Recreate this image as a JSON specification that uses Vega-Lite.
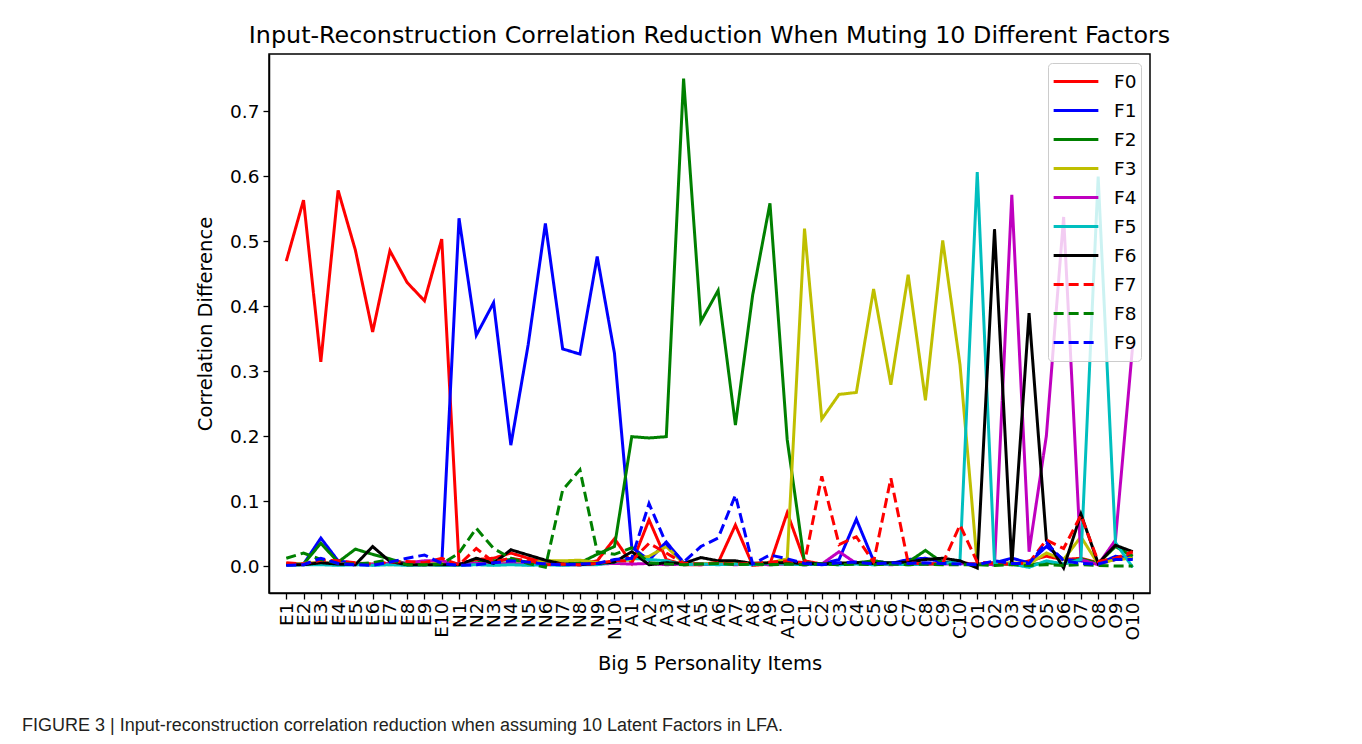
{
  "$schema": "https://vega.github.io/schema/vega-lite/v6.json",
  "padding": {"left": 22, "top": 23, "right": 5, "bottom": 5},
  "background": "white",
  "config": {
    "font": "DejaVu Sans",
    "view": {"stroke": "black", "strokeWidth": 1.5},
    "axis": {"grid": false, "labelColor": "black", "titleColor": "black", "tickColor": "black", "domainColor": "black", "domainWidth": 1.5, "tickWidth": 1.3, "tickSize": 6, "labelFont": "DejaVu Sans", "titleFont": "DejaVu Sans", "labelFontSize": 18.5, "titleFontSize": 19.5, "titleFontWeight": "normal"}
  },
  "title": {
    "text": "FIGURE 3 | Input-reconstruction correlation reduction when assuming 10 Latent Factors in LFA.",
    "orient": "bottom", "anchor": "start", "frame": "group", "dx": -247, "offset": 44,
    "font": "Liberation Sans, Arial, sans-serif", "fontSize": 18, "fontWeight": "normal", "color": "#231f20"
  },
  "vconcat": [
    {
      "width": 881,
      "height": 539,
      "title": {"text": "Input-Reconstruction Correlation Reduction When Muting 10 Different Factors", "font": "DejaVu Sans", "fontSize": 23.8, "fontWeight": "normal", "color": "black", "offset": 6},
      "data": {"values": [
        {"item":"E1","factor":"F0","value":0.469},{"item":"E2","factor":"F0","value":0.563},{"item":"E3","factor":"F0","value":0.314},{"item":"E4","factor":"F0","value":0.578},{"item":"E5","factor":"F0","value":0.486},{"item":"E6","factor":"F0","value":0.360},{"item":"E7","factor":"F0","value":0.485},{"item":"E8","factor":"F0","value":0.436},{"item":"E9","factor":"F0","value":0.408},{"item":"E10","factor":"F0","value":0.503},
        {"item":"N1","factor":"F0","value":0.003},{"item":"N2","factor":"F0","value":0.010},{"item":"N3","factor":"F0","value":0.012},{"item":"N4","factor":"F0","value":0.020},{"item":"N5","factor":"F0","value":0.012},{"item":"N6","factor":"F0","value":0.005},{"item":"N7","factor":"F0","value":0.002},{"item":"N8","factor":"F0","value":0.003},{"item":"N9","factor":"F0","value":0.008},{"item":"N10","factor":"F0","value":0.042},
        {"item":"A1","factor":"F0","value":0.004},{"item":"A2","factor":"F0","value":0.071},{"item":"A3","factor":"F0","value":0.010},{"item":"A4","factor":"F0","value":0.002},{"item":"A5","factor":"F0","value":0.002},{"item":"A6","factor":"F0","value":0.005},{"item":"A7","factor":"F0","value":0.063},{"item":"A8","factor":"F0","value":0.001},{"item":"A9","factor":"F0","value":0.003},{"item":"A10","factor":"F0","value":0.082},
        {"item":"C1","factor":"F0","value":0.008},{"item":"C2","factor":"F0","value":0.003},{"item":"C3","factor":"F0","value":0.004},{"item":"C4","factor":"F0","value":0.005},{"item":"C5","factor":"F0","value":0.004},{"item":"C6","factor":"F0","value":0.003},{"item":"C7","factor":"F0","value":0.004},{"item":"C8","factor":"F0","value":0.003},{"item":"C9","factor":"F0","value":0.004},{"item":"C10","factor":"F0","value":0.005},
        {"item":"O1","factor":"F0","value":0.003},{"item":"O2","factor":"F0","value":0.005},{"item":"O3","factor":"F0","value":0.002},{"item":"O4","factor":"F0","value":0.008},{"item":"O5","factor":"F0","value":0.015},{"item":"O6","factor":"F0","value":0.010},{"item":"O7","factor":"F0","value":0.012},{"item":"O8","factor":"F0","value":0.005},{"item":"O9","factor":"F0","value":0.010},{"item":"O10","factor":"F0","value":0.018},

        {"item":"E1","factor":"F1","value":0.002},{"item":"E2","factor":"F1","value":0.003},{"item":"E3","factor":"F1","value":0.043},{"item":"E4","factor":"F1","value":0.008},{"item":"E5","factor":"F1","value":0.004},{"item":"E6","factor":"F1","value":0.002},{"item":"E7","factor":"F1","value":0.003},{"item":"E8","factor":"F1","value":0.002},{"item":"E9","factor":"F1","value":0.002},{"item":"E10","factor":"F1","value":0.003},
        {"item":"N1","factor":"F1","value":0.535},{"item":"N2","factor":"F1","value":0.355},{"item":"N3","factor":"F1","value":0.405},{"item":"N4","factor":"F1","value":0.186},{"item":"N5","factor":"F1","value":0.340},{"item":"N6","factor":"F1","value":0.527},{"item":"N7","factor":"F1","value":0.334},{"item":"N8","factor":"F1","value":0.326},{"item":"N9","factor":"F1","value":0.476},{"item":"N10","factor":"F1","value":0.327},
        {"item":"A1","factor":"F1","value":0.029},{"item":"A2","factor":"F1","value":0.009},{"item":"A3","factor":"F1","value":0.037},{"item":"A4","factor":"F1","value":0.005},{"item":"A5","factor":"F1","value":0.003},{"item":"A6","factor":"F1","value":0.004},{"item":"A7","factor":"F1","value":0.003},{"item":"A8","factor":"F1","value":0.004},{"item":"A9","factor":"F1","value":0.003},{"item":"A10","factor":"F1","value":0.006},
        {"item":"C1","factor":"F1","value":0.005},{"item":"C2","factor":"F1","value":0.003},{"item":"C3","factor":"F1","value":0.010},{"item":"C4","factor":"F1","value":0.072},{"item":"C5","factor":"F1","value":0.008},{"item":"C6","factor":"F1","value":0.004},{"item":"C7","factor":"F1","value":0.010},{"item":"C8","factor":"F1","value":0.012},{"item":"C9","factor":"F1","value":0.006},{"item":"C10","factor":"F1","value":0.004},
        {"item":"O1","factor":"F1","value":0.002},{"item":"O2","factor":"F1","value":0.005},{"item":"O3","factor":"F1","value":0.012},{"item":"O4","factor":"F1","value":0.005},{"item":"O5","factor":"F1","value":0.030},{"item":"O6","factor":"F1","value":0.010},{"item":"O7","factor":"F1","value":0.008},{"item":"O8","factor":"F1","value":0.003},{"item":"O9","factor":"F1","value":0.015},{"item":"O10","factor":"F1","value":0.012},

        {"item":"E1","factor":"F2","value":0.004},{"item":"E2","factor":"F2","value":0.003},{"item":"E3","factor":"F2","value":0.035},{"item":"E4","factor":"F2","value":0.006},{"item":"E5","factor":"F2","value":0.026},{"item":"E6","factor":"F2","value":0.018},{"item":"E7","factor":"F2","value":0.011},{"item":"E8","factor":"F2","value":0.003},{"item":"E9","factor":"F2","value":0.002},{"item":"E10","factor":"F2","value":0.004},
        {"item":"N1","factor":"F2","value":0.003},{"item":"N2","factor":"F2","value":0.005},{"item":"N3","factor":"F2","value":0.008},{"item":"N4","factor":"F2","value":0.010},{"item":"N5","factor":"F2","value":0.006},{"item":"N6","factor":"F2","value":0.004},{"item":"N7","factor":"F2","value":0.003},{"item":"N8","factor":"F2","value":0.005},{"item":"N9","factor":"F2","value":0.018},{"item":"N10","factor":"F2","value":0.030},
        {"item":"A1","factor":"F2","value":0.199},{"item":"A2","factor":"F2","value":0.197},{"item":"A3","factor":"F2","value":0.199},{"item":"A4","factor":"F2","value":0.750},{"item":"A5","factor":"F2","value":0.376},{"item":"A6","factor":"F2","value":0.424},{"item":"A7","factor":"F2","value":0.217},{"item":"A8","factor":"F2","value":0.417},{"item":"A9","factor":"F2","value":0.558},{"item":"A10","factor":"F2","value":0.194},
        {"item":"C1","factor":"F2","value":0.005},{"item":"C2","factor":"F2","value":0.003},{"item":"C3","factor":"F2","value":0.004},{"item":"C4","factor":"F2","value":0.005},{"item":"C5","factor":"F2","value":0.008},{"item":"C6","factor":"F2","value":0.004},{"item":"C7","factor":"F2","value":0.006},{"item":"C8","factor":"F2","value":0.024},{"item":"C9","factor":"F2","value":0.005},{"item":"C10","factor":"F2","value":0.004},
        {"item":"O1","factor":"F2","value":0.003},{"item":"O2","factor":"F2","value":0.002},{"item":"O3","factor":"F2","value":0.004},{"item":"O4","factor":"F2","value":0.002},{"item":"O5","factor":"F2","value":0.005},{"item":"O6","factor":"F2","value":0.003},{"item":"O7","factor":"F2","value":0.011},{"item":"O8","factor":"F2","value":0.004},{"item":"O9","factor":"F2","value":0.030},{"item":"O10","factor":"F2","value":0.015},

        {"item":"E1","factor":"F3","value":0.003},{"item":"E2","factor":"F3","value":0.004},{"item":"E3","factor":"F3","value":0.006},{"item":"E4","factor":"F3","value":0.003},{"item":"E5","factor":"F3","value":0.004},{"item":"E6","factor":"F3","value":0.003},{"item":"E7","factor":"F3","value":0.002},{"item":"E8","factor":"F3","value":0.003},{"item":"E9","factor":"F3","value":0.003},{"item":"E10","factor":"F3","value":0.004},
        {"item":"N1","factor":"F3","value":0.002},{"item":"N2","factor":"F3","value":0.003},{"item":"N3","factor":"F3","value":0.004},{"item":"N4","factor":"F3","value":0.003},{"item":"N5","factor":"F3","value":0.004},{"item":"N6","factor":"F3","value":0.008},{"item":"N7","factor":"F3","value":0.008},{"item":"N8","factor":"F3","value":0.009},{"item":"N9","factor":"F3","value":0.005},{"item":"N10","factor":"F3","value":0.006},
        {"item":"A1","factor":"F3","value":0.010},{"item":"A2","factor":"F3","value":0.015},{"item":"A3","factor":"F3","value":0.030},{"item":"A4","factor":"F3","value":0.004},{"item":"A5","factor":"F3","value":0.003},{"item":"A6","factor":"F3","value":0.005},{"item":"A7","factor":"F3","value":0.004},{"item":"A8","factor":"F3","value":0.003},{"item":"A9","factor":"F3","value":0.005},{"item":"A10","factor":"F3","value":0.011},
        {"item":"C1","factor":"F3","value":0.519},{"item":"C2","factor":"F3","value":0.226},{"item":"C3","factor":"F3","value":0.264},{"item":"C4","factor":"F3","value":0.267},{"item":"C5","factor":"F3","value":0.426},{"item":"C6","factor":"F3","value":0.279},{"item":"C7","factor":"F3","value":0.448},{"item":"C8","factor":"F3","value":0.255},{"item":"C9","factor":"F3","value":0.501},{"item":"C10","factor":"F3","value":0.310},
        {"item":"O1","factor":"F3","value":0.003},{"item":"O2","factor":"F3","value":0.004},{"item":"O3","factor":"F3","value":0.005},{"item":"O4","factor":"F3","value":0.003},{"item":"O5","factor":"F3","value":0.020},{"item":"O6","factor":"F3","value":0.010},{"item":"O7","factor":"F3","value":0.045},{"item":"O8","factor":"F3","value":0.003},{"item":"O9","factor":"F3","value":0.010},{"item":"O10","factor":"F3","value":0.012},

        {"item":"E1","factor":"F4","value":0.002},{"item":"E2","factor":"F4","value":0.003},{"item":"E3","factor":"F4","value":0.005},{"item":"E4","factor":"F4","value":0.003},{"item":"E5","factor":"F4","value":0.002},{"item":"E6","factor":"F4","value":0.003},{"item":"E7","factor":"F4","value":0.004},{"item":"E8","factor":"F4","value":0.005},{"item":"E9","factor":"F4","value":0.008},{"item":"E10","factor":"F4","value":0.008},
        {"item":"N1","factor":"F4","value":0.003},{"item":"N2","factor":"F4","value":0.004},{"item":"N3","factor":"F4","value":0.003},{"item":"N4","factor":"F4","value":0.004},{"item":"N5","factor":"F4","value":0.002},{"item":"N6","factor":"F4","value":0.003},{"item":"N7","factor":"F4","value":0.002},{"item":"N8","factor":"F4","value":0.002},{"item":"N9","factor":"F4","value":0.003},{"item":"N10","factor":"F4","value":0.004},
        {"item":"A1","factor":"F4","value":0.003},{"item":"A2","factor":"F4","value":0.004},{"item":"A3","factor":"F4","value":0.002},{"item":"A4","factor":"F4","value":0.003},{"item":"A5","factor":"F4","value":0.002},{"item":"A6","factor":"F4","value":0.003},{"item":"A7","factor":"F4","value":0.002},{"item":"A8","factor":"F4","value":0.003},{"item":"A9","factor":"F4","value":0.002},{"item":"A10","factor":"F4","value":0.003},
        {"item":"C1","factor":"F4","value":0.002},{"item":"C2","factor":"F4","value":0.003},{"item":"C3","factor":"F4","value":0.022},{"item":"C4","factor":"F4","value":0.004},{"item":"C5","factor":"F4","value":0.003},{"item":"C6","factor":"F4","value":0.002},{"item":"C7","factor":"F4","value":0.003},{"item":"C8","factor":"F4","value":0.004},{"item":"C9","factor":"F4","value":0.003},{"item":"C10","factor":"F4","value":0.004},
        {"item":"O1","factor":"F4","value":0.003},{"item":"O2","factor":"F4","value":0.002},{"item":"O3","factor":"F4","value":0.571},{"item":"O4","factor":"F4","value":0.022},{"item":"O5","factor":"F4","value":0.200},{"item":"O6","factor":"F4","value":0.537},{"item":"O7","factor":"F4","value":0.010},{"item":"O8","factor":"F4","value":0.002},{"item":"O9","factor":"F4","value":0.040},{"item":"O10","factor":"F4","value":0.340},

        {"item":"E1","factor":"F5","value":0.001},{"item":"E2","factor":"F5","value":0.002},{"item":"E3","factor":"F5","value":0.002},{"item":"E4","factor":"F5","value":0.001},{"item":"E5","factor":"F5","value":0.002},{"item":"E6","factor":"F5","value":0.001},{"item":"E7","factor":"F5","value":0.002},{"item":"E8","factor":"F5","value":0.001},{"item":"E9","factor":"F5","value":0.002},{"item":"E10","factor":"F5","value":0.001},
        {"item":"N1","factor":"F5","value":0.001},{"item":"N2","factor":"F5","value":0.002},{"item":"N3","factor":"F5","value":0.001},{"item":"N4","factor":"F5","value":0.002},{"item":"N5","factor":"F5","value":0.001},{"item":"N6","factor":"F5","value":0.002},{"item":"N7","factor":"F5","value":0.001},{"item":"N8","factor":"F5","value":0.002},{"item":"N9","factor":"F5","value":0.002},{"item":"N10","factor":"F5","value":0.006},
        {"item":"A1","factor":"F5","value":0.012},{"item":"A2","factor":"F5","value":0.010},{"item":"A3","factor":"F5","value":0.008},{"item":"A4","factor":"F5","value":0.002},{"item":"A5","factor":"F5","value":0.003},{"item":"A6","factor":"F5","value":0.002},{"item":"A7","factor":"F5","value":0.003},{"item":"A8","factor":"F5","value":0.002},{"item":"A9","factor":"F5","value":0.004},{"item":"A10","factor":"F5","value":0.003},
        {"item":"C1","factor":"F5","value":0.002},{"item":"C2","factor":"F5","value":0.003},{"item":"C3","factor":"F5","value":0.002},{"item":"C4","factor":"F5","value":0.003},{"item":"C5","factor":"F5","value":0.002},{"item":"C6","factor":"F5","value":0.003},{"item":"C7","factor":"F5","value":0.002},{"item":"C8","factor":"F5","value":0.003},{"item":"C9","factor":"F5","value":0.003},{"item":"C10","factor":"F5","value":0.008},
        {"item":"O1","factor":"F5","value":0.606},{"item":"O2","factor":"F5","value":0.004},{"item":"O3","factor":"F5","value":0.003},{"item":"O4","factor":"F5","value":-0.002},{"item":"O5","factor":"F5","value":0.008},{"item":"O6","factor":"F5","value":0.003},{"item":"O7","factor":"F5","value":0.010},{"item":"O8","factor":"F5","value":0.599},{"item":"O9","factor":"F5","value":0.036},{"item":"O10","factor":"F5","value":-0.002},

        {"item":"E1","factor":"F6","value":0.002},{"item":"E2","factor":"F6","value":0.002},{"item":"E3","factor":"F6","value":0.005},{"item":"E4","factor":"F6","value":0.003},{"item":"E5","factor":"F6","value":0.002},{"item":"E6","factor":"F6","value":0.030},{"item":"E7","factor":"F6","value":0.007},{"item":"E8","factor":"F6","value":0.002},{"item":"E9","factor":"F6","value":0.002},{"item":"E10","factor":"F6","value":0.002},
        {"item":"N1","factor":"F6","value":0.002},{"item":"N2","factor":"F6","value":0.012},{"item":"N3","factor":"F6","value":0.004},{"item":"N4","factor":"F6","value":0.025},{"item":"N5","factor":"F6","value":0.017},{"item":"N6","factor":"F6","value":0.009},{"item":"N7","factor":"F6","value":0.003},{"item":"N8","factor":"F6","value":0.002},{"item":"N9","factor":"F6","value":0.004},{"item":"N10","factor":"F6","value":0.006},
        {"item":"A1","factor":"F6","value":0.022},{"item":"A2","factor":"F6","value":0.002},{"item":"A3","factor":"F6","value":0.005},{"item":"A4","factor":"F6","value":0.004},{"item":"A5","factor":"F6","value":0.013},{"item":"A6","factor":"F6","value":0.008},{"item":"A7","factor":"F6","value":0.008},{"item":"A8","factor":"F6","value":0.004},{"item":"A9","factor":"F6","value":0.005},{"item":"A10","factor":"F6","value":0.005},
        {"item":"C1","factor":"F6","value":0.004},{"item":"C2","factor":"F6","value":0.003},{"item":"C3","factor":"F6","value":0.004},{"item":"C4","factor":"F6","value":0.005},{"item":"C5","factor":"F6","value":0.004},{"item":"C6","factor":"F6","value":0.005},{"item":"C7","factor":"F6","value":0.006},{"item":"C8","factor":"F6","value":0.010},{"item":"C9","factor":"F6","value":0.012},{"item":"C10","factor":"F6","value":0.008},
        {"item":"O1","factor":"F6","value":-0.003},{"item":"O2","factor":"F6","value":0.518},{"item":"O3","factor":"F6","value":0.001},{"item":"O4","factor":"F6","value":0.389},{"item":"O5","factor":"F6","value":0.040},{"item":"O6","factor":"F6","value":-0.003},{"item":"O7","factor":"F6","value":0.080},{"item":"O8","factor":"F6","value":0.004},{"item":"O9","factor":"F6","value":0.032},{"item":"O10","factor":"F6","value":0.022},

        {"item":"E1","factor":"F7","value":0.005},{"item":"E2","factor":"F7","value":0.003},{"item":"E3","factor":"F7","value":0.009},{"item":"E4","factor":"F7","value":0.008},{"item":"E5","factor":"F7","value":0.005},{"item":"E6","factor":"F7","value":0.003},{"item":"E7","factor":"F7","value":0.006},{"item":"E8","factor":"F7","value":0.007},{"item":"E9","factor":"F7","value":0.005},{"item":"E10","factor":"F7","value":0.012},
        {"item":"N1","factor":"F7","value":0.002},{"item":"N2","factor":"F7","value":0.027},{"item":"N3","factor":"F7","value":0.006},{"item":"N4","factor":"F7","value":0.012},{"item":"N5","factor":"F7","value":0.008},{"item":"N6","factor":"F7","value":0.002},{"item":"N7","factor":"F7","value":0.003},{"item":"N8","factor":"F7","value":0.002},{"item":"N9","factor":"F7","value":0.004},{"item":"N10","factor":"F7","value":0.008},
        {"item":"A1","factor":"F7","value":0.008},{"item":"A2","factor":"F7","value":0.035},{"item":"A3","factor":"F7","value":0.020},{"item":"A4","factor":"F7","value":0.004},{"item":"A5","factor":"F7","value":0.003},{"item":"A6","factor":"F7","value":0.005},{"item":"A7","factor":"F7","value":0.003},{"item":"A8","factor":"F7","value":0.004},{"item":"A9","factor":"F7","value":0.006},{"item":"A10","factor":"F7","value":0.008},
        {"item":"C1","factor":"F7","value":0.005},{"item":"C2","factor":"F7","value":0.138},{"item":"C3","factor":"F7","value":0.033},{"item":"C4","factor":"F7","value":0.045},{"item":"C5","factor":"F7","value":0.006},{"item":"C6","factor":"F7","value":0.135},{"item":"C7","factor":"F7","value":0.005},{"item":"C8","factor":"F7","value":0.003},{"item":"C9","factor":"F7","value":0.004},{"item":"C10","factor":"F7","value":0.063},
        {"item":"O1","factor":"F7","value":0.006},{"item":"O2","factor":"F7","value":0.004},{"item":"O3","factor":"F7","value":0.003},{"item":"O4","factor":"F7","value":0.005},{"item":"O5","factor":"F7","value":0.040},{"item":"O6","factor":"F7","value":0.027},{"item":"O7","factor":"F7","value":0.078},{"item":"O8","factor":"F7","value":0.007},{"item":"O9","factor":"F7","value":0.012},{"item":"O10","factor":"F7","value":0.022},

        {"item":"E1","factor":"F8","value":0.012},{"item":"E2","factor":"F8","value":0.020},{"item":"E3","factor":"F8","value":0.010},{"item":"E4","factor":"F8","value":0.004},{"item":"E5","factor":"F8","value":0.003},{"item":"E6","factor":"F8","value":0.005},{"item":"E7","factor":"F8","value":0.010},{"item":"E8","factor":"F8","value":0.002},{"item":"E9","factor":"F8","value":0.002},{"item":"E10","factor":"F8","value":0.003},
        {"item":"N1","factor":"F8","value":0.020},{"item":"N2","factor":"F8","value":0.058},{"item":"N3","factor":"F8","value":0.027},{"item":"N4","factor":"F8","value":0.012},{"item":"N5","factor":"F8","value":0.004},{"item":"N6","factor":"F8","value":-0.002},{"item":"N7","factor":"F8","value":0.117},{"item":"N8","factor":"F8","value":0.148},{"item":"N9","factor":"F8","value":0.022},{"item":"N10","factor":"F8","value":0.018},
        {"item":"A1","factor":"F8","value":0.028},{"item":"A2","factor":"F8","value":0.005},{"item":"A3","factor":"F8","value":0.003},{"item":"A4","factor":"F8","value":0.002},{"item":"A5","factor":"F8","value":0.003},{"item":"A6","factor":"F8","value":0.004},{"item":"A7","factor":"F8","value":0.002},{"item":"A8","factor":"F8","value":0.003},{"item":"A9","factor":"F8","value":0.002},{"item":"A10","factor":"F8","value":0.003},
        {"item":"C1","factor":"F8","value":0.002},{"item":"C2","factor":"F8","value":0.003},{"item":"C3","factor":"F8","value":0.002},{"item":"C4","factor":"F8","value":0.003},{"item":"C5","factor":"F8","value":0.002},{"item":"C6","factor":"F8","value":0.003},{"item":"C7","factor":"F8","value":0.002},{"item":"C8","factor":"F8","value":0.003},{"item":"C9","factor":"F8","value":0.002},{"item":"C10","factor":"F8","value":0.002},
        {"item":"O1","factor":"F8","value":0.002},{"item":"O2","factor":"F8","value":0.001},{"item":"O3","factor":"F8","value":0.002},{"item":"O4","factor":"F8","value":0.001},{"item":"O5","factor":"F8","value":0.002},{"item":"O6","factor":"F8","value":0.001},{"item":"O7","factor":"F8","value":0.002},{"item":"O8","factor":"F8","value":0.001},{"item":"O9","factor":"F8","value":0.000},{"item":"O10","factor":"F8","value":0.000},

        {"item":"E1","factor":"F9","value":0.001},{"item":"E2","factor":"F9","value":0.002},{"item":"E3","factor":"F9","value":0.012},{"item":"E4","factor":"F9","value":0.004},{"item":"E5","factor":"F9","value":0.002},{"item":"E6","factor":"F9","value":0.001},{"item":"E7","factor":"F9","value":0.006},{"item":"E8","factor":"F9","value":0.012},{"item":"E9","factor":"F9","value":0.017},{"item":"E10","factor":"F9","value":0.004},
        {"item":"N1","factor":"F9","value":0.001},{"item":"N2","factor":"F9","value":0.002},{"item":"N3","factor":"F9","value":0.005},{"item":"N4","factor":"F9","value":0.008},{"item":"N5","factor":"F9","value":0.006},{"item":"N6","factor":"F9","value":0.003},{"item":"N7","factor":"F9","value":0.002},{"item":"N8","factor":"F9","value":0.003},{"item":"N9","factor":"F9","value":0.004},{"item":"N10","factor":"F9","value":0.010},
        {"item":"A1","factor":"F9","value":0.012},{"item":"A2","factor":"F9","value":0.096},{"item":"A3","factor":"F9","value":0.034},{"item":"A4","factor":"F9","value":0.006},{"item":"A5","factor":"F9","value":0.030},{"item":"A6","factor":"F9","value":0.043},{"item":"A7","factor":"F9","value":0.109},{"item":"A8","factor":"F9","value":0.003},{"item":"A9","factor":"F9","value":0.017},{"item":"A10","factor":"F9","value":0.011},
        {"item":"C1","factor":"F9","value":0.004},{"item":"C2","factor":"F9","value":0.002},{"item":"C3","factor":"F9","value":0.005},{"item":"C4","factor":"F9","value":0.006},{"item":"C5","factor":"F9","value":0.003},{"item":"C6","factor":"F9","value":0.005},{"item":"C7","factor":"F9","value":0.004},{"item":"C8","factor":"F9","value":0.005},{"item":"C9","factor":"F9","value":0.004},{"item":"C10","factor":"F9","value":0.003},
        {"item":"O1","factor":"F9","value":0.002},{"item":"O2","factor":"F9","value":0.008},{"item":"O3","factor":"F9","value":0.004},{"item":"O4","factor":"F9","value":0.004},{"item":"O5","factor":"F9","value":0.036},{"item":"O6","factor":"F9","value":0.008},{"item":"O7","factor":"F9","value":0.004},{"item":"O8","factor":"F9","value":0.003},{"item":"O9","factor":"F9","value":0.010},{"item":"O10","factor":"F9","value":0.010}
      ]},
      "mark": {"type": "line", "strokeWidth": 3, "clip": true},
      "encoding": {
        "x": {
          "field": "item", "type": "ordinal",
          "sort": ["E1","E2","E3","E4","E5","E6","E7","E8","E9","E10","N1","N2","N3","N4","N5","N6","N7","N8","N9","N10","A1","A2","A3","A4","A5","A6","A7","A8","A9","A10","C1","C2","C3","C4","C5","C6","C7","C8","C9","C10","O1","O2","O3","O4","O5","O6","O7","O8","O9","O10"],
          "scale": {"type": "point", "padding": 2.5},
          "axis": {"title": "Big 5 Personality Items", "labelAngle": -90, "labelPadding": 3, "titlePadding": 14}
        },
        "y": {
          "field": "value", "type": "quantitative",
          "scale": {"domain": [-0.0415, 0.7877], "nice": false, "zero": false},
          "axis": {"title": "Correlation Difference", "values": [0, 0.1, 0.2, 0.3, 0.4, 0.5, 0.6, 0.7], "format": ".1f", "labelPadding": 4, "titlePadding": 14}
        },
        "color": {
          "field": "factor", "type": "nominal",
          "scale": {"domain": ["F0","F1","F2","F3","F4","F5","F6","F7","F8","F9"], "range": ["#ff0000","#0000ff","#008000","#bfbf00","#bf00bf","#00bfbf","#000000","#ff0000","#008000","#0000ff"]},
          "legend": {"title": null, "orient": "top-right", "offset": 9, "padding": 4, "fillColor": "rgba(255,255,255,0.8)", "strokeColor": "#cccccc", "cornerRadius": 4, "labelFont": "DejaVu Sans", "labelFontSize": 18.5, "labelColor": "black", "labelOffset": 14, "symbolType": "stroke", "symbolStrokeWidth": 3, "symbolSize": 2000, "clipHeight": 29, "rowPadding": 0}
        },
        "strokeDash": {
          "field": "factor", "type": "nominal",
          "scale": {"domain": ["F0","F1","F2","F3","F4","F5","F6","F7","F8","F9"], "range": [[1,0],[1,0],[1,0],[1,0],[1,0],[1,0],[1,0],[10,5],[10,5],[10,5]]},
          "legend": {"title": null, "orient": "top-right", "offset": 9, "padding": 4, "fillColor": "rgba(255,255,255,0.8)", "strokeColor": "#cccccc", "cornerRadius": 4, "labelFont": "DejaVu Sans", "labelFontSize": 18.5, "labelColor": "black", "labelOffset": 14, "symbolType": "stroke", "symbolStrokeWidth": 3, "symbolSize": 2000, "clipHeight": 29, "rowPadding": 0}
        }
      }
    }
  ]
}
